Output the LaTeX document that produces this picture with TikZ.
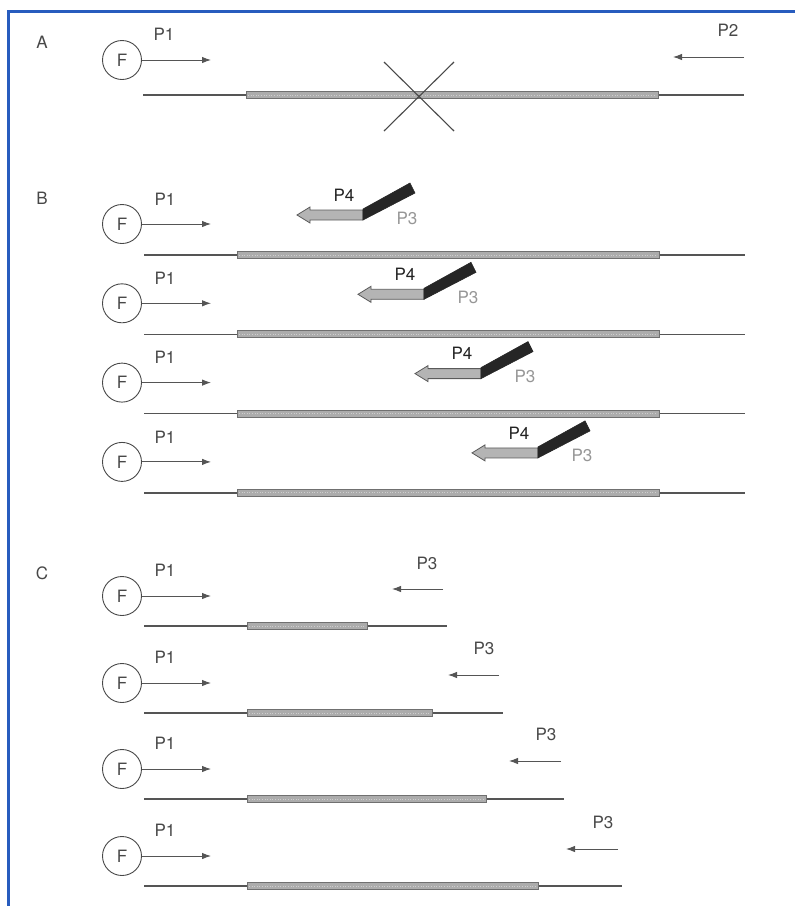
\documentclass[tikz,border=0pt]{standalone}
\usepackage{fontspec}
\setmainfont{TeX Gyre Heros}
\usetikzlibrary{arrows.meta}

\definecolor{frameblue}{RGB}{40,92,190}
\definecolor{ink}{RGB}{72,72,72}
\definecolor{strand}{RGB}{85,85,85}
\definecolor{barfill}{RGB}{172,172,172}
\definecolor{baredge}{RGB}{112,112,112}
\definecolor{barspeck}{RGB}{205,205,205}
\definecolor{probefill}{RGB}{180,180,180}
\definecolor{probeedge}{RGB}{90,90,90}
\definecolor{tailfill}{RGB}{38,38,38}
\definecolor{lightlabel}{RGB}{150,150,150}
\definecolor{darklabel}{RGB}{35,35,35}

\tikzset{
  txt/.style={font=\fontsize{17}{20}\selectfont, text=ink, inner sep=0pt},
  fluor/.style={circle, draw=ink, line width=0.9pt, minimum size=39pt,
    inner sep=0pt, font=\fontsize{17}{20}\selectfont, text=ink},
  primer/.style={draw=strand, line width=0.9pt, -{Latex[length=9pt,width=6.5pt]}},
  strandline/.style={draw=strand, line width=1.2pt},
  target/.style={fill=barfill, draw=baredge, line width=0.8pt},
  speck/.style={draw=barspeck, line width=1pt, dash pattern=on 1pt off 1.6pt},
  crossline/.style={draw=ink, line width=1.1pt},
  probe/.style={fill=probefill, draw=probeedge, line width=0.8pt},
  tail/.style={fill=tailfill, draw=tailfill, line width=0.6pt},
}

\begin{document}
\begin{tikzpicture}[x=1pt,y=-1pt]
\useasboundingbox (0,0) rectangle (795,906);

% frame
\draw[frameblue, line width=2.6pt] (8.5,906) -- (8.5,11.5) -- (795,11.5);

% ---------------- panel A ----------------
\node[txt] (labA) at (42,42) {A};
\node[fluor] (fA) at (122,60) {F};
\node[txt] (p1A) at (164,34) {P1};
\coordinate (p1Atip) at (211,60);
\draw[primer] (fA.east) -- (p1Atip);

\draw[strandline] (143,95) -- (744,95);
\draw[target] (246,91.5) rectangle (658,98.5);
\draw[speck] (248,95) -- (656,95);

\draw[crossline] (384,62) -- (454,131);
\draw[crossline] (454,62) -- (384,131);

\node[txt] (p2A) at (728,30) {P2};
\coordinate (p2Astart) at (744,57);
\coordinate (p2Atip) at (673,57);
\draw[primer] (p2Astart) -- (p2Atip);

% ---------------- panel B ----------------
\node[txt] (labB) at (42,198) {B};
\foreach \k/\tx in {1/297,2/358,3/415,4/472} {
  \pgfmathsetmacro\cy{224+79.3*(\k-1)}
  \pgfmathsetmacro\dy{\cy+31}
  \pgfmathsetmacro\ty{\cy-9}
  \node[fluor] (fB\k) at (122,\cy) {F};
  \node[txt] (p1B\k) at (165,\cy-25) {P1};
  \coordinate (p1B\k tip) at (211,\cy);
  \draw[primer] (fB\k.east) -- (p1B\k tip);
  % template
  \draw[strandline] (144,\dy) -- (745,\dy);
  \draw[target] (237,\dy-3.5) rectangle (659,\dy+3.5);
  \draw[speck] (239,\dy) -- (657,\dy);
  % probe: shaded arrow (P4) with dark flap (P3)
  \draw[probe] (\tx,\ty) -- (\tx+13,\ty-8) -- (\tx+13,\ty-5) -- (\tx+66,\ty-5)
     -- (\tx+66,\ty+5) -- (\tx+13,\ty+5) -- (\tx+13,\ty+8) -- cycle;
  \draw[tail] (\tx+66,\ty-6) -- (\tx+113,\ty-32) -- (\tx+118,\ty-22)
     -- (\tx+66,\ty+5) -- cycle;
  \node[txt, text=darklabel] (p4B\k) at (\tx+47,\ty-20) {P4};
  \node[txt, text=lightlabel] (p3B\k) at (\tx+110,\ty+3) {P3};
}

% ---------------- panel C ----------------
\node[txt] (labC) at (42,573) {C};
\foreach \k/\cy/\be/\le/\as/\at/\ay/\lx/\ly in
  {1/596/367/447/443/392/589/427/563,
   2/683/432/503/499/448/675/484/648,
   3/769/486/564/561/509/761/546/734,
   4/856/538/622/618/566/849/603/822} {
  \pgfmathsetmacro\dy{\cy+30}
  \node[fluor] (fC\k) at (122,\cy) {F};
  \node[txt] (p1C\k) at (165,\cy-26) {P1};
  \coordinate (p1C\k tip) at (211,\cy);
  \draw[primer] (fC\k.east) -- (p1C\k tip);
  % extension product
  \draw[strandline] (144,\dy) -- (\le,\dy);
  \draw[target] (247,\dy-3.5) rectangle (\be,\dy+3.5);
  \draw[speck] (249,\dy) -- (\be-2,\dy);
  % reverse primer
  \node[txt] (p3C\k) at (\lx,\ly) {P3};
  \coordinate (p3C\k start) at (\as,\ay);
  \coordinate (p3C\k tip) at (\at,\ay);
  \draw[primer] (p3C\k start) -- (p3C\k tip);
}
\end{tikzpicture}
\end{document}
